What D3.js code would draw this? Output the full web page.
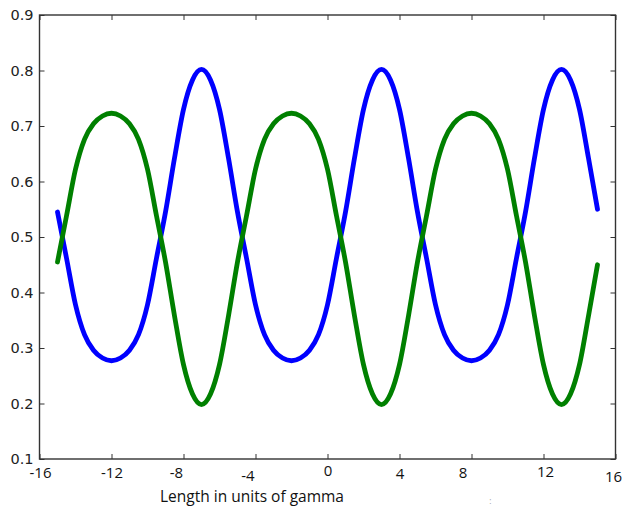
<!DOCTYPE html>
<html>
<head>
<meta charset="utf-8">
<script src="https://cdn.jsdelivr.net/npm/d3@7"></script>
<style>
  html, body { margin: 0; padding: 0; background: #ffffff; }
  svg { display: block; }
</style>
</head>
<body>
<svg id="chart" width="622" height="506"></svg>
<script>
// ---- data ----
const xValues = [-15, -14.5, -14, -13.5, -13, -12.5, -12, -11.5, -11, -10.5, -10, -9.5, -9, -8.5, -8, -7.5, -7, -6.5, -6, -5.5, -5, -4.5, -4, -3.5, -3, -2.5, -2, -1.5, -1, -0.5, 0, 0.5, 1, 1.5, 2, 2.5, 3, 3.5, 4, 4.5, 5, 5.5, 6, 6.5, 7, 7.5, 8, 8.5, 9, 9.5, 10, 10.5, 11, 11.5, 12, 12.5, 13, 13.5, 14, 14.5, 15];
const blueSeries = [0.545, 0.462, 0.378, 0.324, 0.296, 0.282, 0.277, 0.282, 0.296, 0.324, 0.378, 0.462, 0.545, 0.642, 0.730, 0.783, 0.802, 0.783, 0.730, 0.642, 0.545, 0.462, 0.378, 0.324, 0.296, 0.282, 0.277, 0.282, 0.296, 0.324, 0.378, 0.462, 0.545, 0.642, 0.730, 0.783, 0.802, 0.783, 0.730, 0.642, 0.545, 0.462, 0.378, 0.324, 0.296, 0.282, 0.277, 0.282, 0.296, 0.324, 0.378, 0.462, 0.545, 0.642, 0.730, 0.783, 0.802, 0.783, 0.730, 0.642, 0.550];
const greenSeries = [0.455, 0.538, 0.622, 0.676, 0.704, 0.718, 0.723, 0.718, 0.704, 0.676, 0.622, 0.538, 0.455, 0.358, 0.270, 0.217, 0.198, 0.217, 0.270, 0.358, 0.455, 0.538, 0.622, 0.676, 0.704, 0.718, 0.723, 0.718, 0.704, 0.676, 0.622, 0.538, 0.455, 0.358, 0.270, 0.217, 0.198, 0.217, 0.270, 0.358, 0.455, 0.538, 0.622, 0.676, 0.704, 0.718, 0.723, 0.718, 0.704, 0.676, 0.622, 0.538, 0.455, 0.358, 0.270, 0.217, 0.198, 0.217, 0.270, 0.358, 0.450];
const xTicks = [-16, -12, -8, -4, 0, 4, 8, 12, 16];
const yTicks = [0.1, 0.2, 0.3, 0.4, 0.5, 0.6, 0.7, 0.8, 0.9];
const xAxisTitle = "Length in units of gamma";

// ---- layout ----
const svg = d3.select("#chart");
const plotLeft = 39.5, plotRight = 615.5, plotTop = 15, plotBottom = 459;

const x = d3.scaleLinear().domain([-16, 16]).range([plotLeft, plotRight]);
const y = d3.scaleLinear().domain([0.1, 0.9]).range([plotBottom, plotTop]);

// hand-placed look of the x tick labels in the reference (dx, dy)
const xLabelNudge = new Map([[-16, [0.5, 0]], [-12, [0, 0]], [-8, [-7.5, 0]], [-4, [-8, 3]], [0, [0, -2]], [4, [0, 1]], [8, [-9, 0]], [12, [1.5, -1]], [16, [-2.5, 4]]]);

// series lines
const line = d3.line()
  .x((d, i) => x(xValues[i]))
  .y(d => y(d))
  .curve(d3.curveMonotoneX);

svg.append("path")
  .datum(blueSeries)
  .attr("d", line)
  .attr("fill", "none")
  .attr("stroke", "#0000ff")
  .attr("stroke-width", 4.8)
  .attr("stroke-linecap", "round")
  .attr("stroke-linejoin", "round");

svg.append("path")
  .datum(greenSeries)
  .attr("d", line)
  .attr("fill", "none")
  .attr("stroke", "#008000")
  .attr("stroke-width", 4.8)
  .attr("stroke-linecap", "round")
  .attr("stroke-linejoin", "round");

// axes (inward ticks on all four sides)
const axisColor = "#333";
function styleAxis(g) {
  g.select(".domain").remove();
  g.selectAll(".tick line").attr("stroke", axisColor).attr("stroke-width", 1);
}

const gBottom = svg.append("g")
  .attr("transform", `translate(0,${plotBottom})`)
  .call(d3.axisBottom(x).tickValues(xTicks).tickSizeInner(-5).tickSizeOuter(0).tickPadding(0).tickFormat(d3.format("d")))
  .call(styleAxis);
gBottom.selectAll(".tick text")
  .attr("font-family", "'Open Sans', Lato, sans-serif")
  .attr("font-size", 15)
  .attr("fill", "#111")
  .attr("y", 19)
  .attr("dy", 0)
  .attr("dx", d => xLabelNudge.get(d)[0])
  .attr("transform", d => `translate(0,${xLabelNudge.get(d)[1]})`)
  .text(d => (d < 0 ? "-" + Math.abs(d) : String(d)));

svg.append("g")
  .attr("transform", `translate(0,${plotTop})`)
  .call(d3.axisTop(x).tickValues(xTicks).tickSizeInner(-5).tickSizeOuter(0).tickFormat(""))
  .call(styleAxis);

const gLeft = svg.append("g")
  .attr("transform", `translate(${plotLeft},0)`)
  .call(d3.axisLeft(y).tickValues(yTicks).tickSizeInner(-5).tickSizeOuter(0).tickPadding(6).tickFormat(d3.format(".1f")))
  .call(styleAxis);
gLeft.selectAll(".tick text")
  .attr("font-family", "'DejaVu Sans', sans-serif")
  .attr("font-size", 14.5)
  .attr("fill", "#222");

svg.append("g")
  .attr("transform", `translate(${plotRight},0)`)
  .call(d3.axisRight(y).tickValues(yTicks).tickSizeInner(-5).tickSizeOuter(0).tickFormat(""))
  .call(styleAxis);

// frame
svg.append("rect")
  .attr("x", plotLeft)
  .attr("y", plotTop)
  .attr("width", plotRight - plotLeft)
  .attr("height", plotBottom - plotTop)
  .attr("fill", "none")
  .attr("stroke", axisColor)
  .attr("stroke-width", 1.4);

// axis title
svg.append("text")
  .attr("x", 160)
  .attr("y", 502)
  .attr("font-family", "'Open Sans', Lato, sans-serif")
  .attr("font-size", 15.5)
  .attr("fill", "#111")
  .text(xAxisTitle);

// small stray mark in the reference image
svg.append("text")
  .attr("x", 489)
  .attr("y", 504)
  .attr("font-family", "'DejaVu Sans', sans-serif")
  .attr("font-size", 8)
  .attr("fill", "#aaa")
  .text(":");
</script>
</body>
</html>
